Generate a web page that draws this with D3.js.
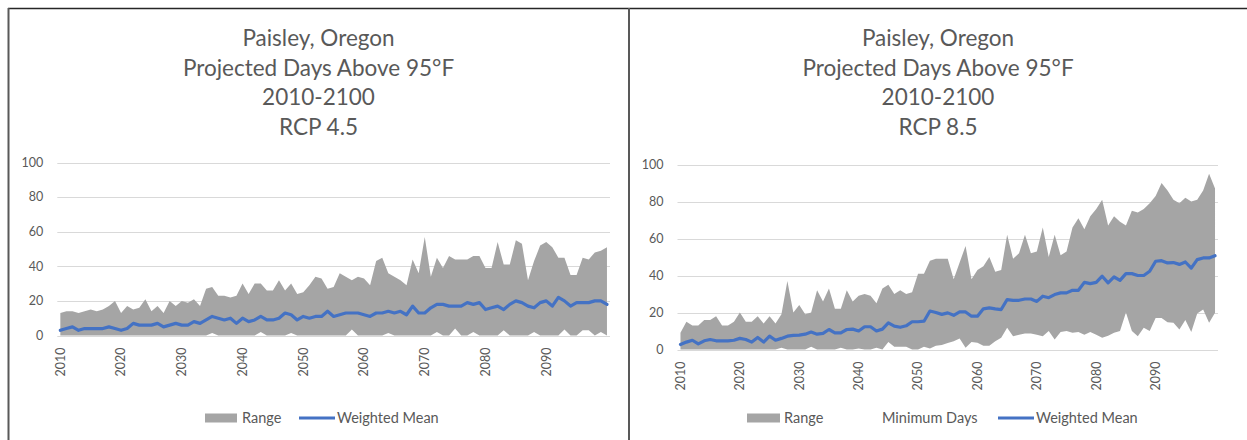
<!DOCTYPE html>
<html>
<head>
<meta charset="utf-8">
<script src="https://cdn.jsdelivr.net/npm/d3@7"></script>
<style>
  html, body { margin: 0; padding: 0; background: #fff; }
  svg { display: block; }
  text { font-family: Lato, "Open Sans", sans-serif; fill: #595959; }
</style>
</head>
<body>
<svg id="chart" width="1247" height="440"></svg>
<script>
// Years on the category axis and the labelled ticks
const years = d3.range(2010, 2101);
const yearTicks = [2010, 2020, 2030, 2040, 2050, 2060, 2070, 2080, 2090];
const dayTicks = [0, 20, 40, 60, 80, 100];

// RCP 4.5: lowest model, highest model, weighted mean (days above 95°F)
const rcp45Min = [
  0, 0, 0, 0, 0, 0, 0, 0, 0, 0,
  0, 0, 0, 0, 0, 0, 0, 0, 0, 0,
  0, 0, 0, 0, 0, 1.5, 0, 0, 0, 0,
  0, 0, 0, 2, 0, 0, 0, 0, 1.5, 0,
  0, 0, 0, 0, 0, 0, 0, 0, 3.5, 0,
  0, 0, 0, 0, 1.5, 0, 0, 0, 0, 0,
  0, 0, 2, 0, 0, 4, 0, 0, 2, 0,
  0, 0, 0, 3, 0, 0, 0, 0, 2, 0,
  0, 0, 0, 3.5, 0, 0, 3, 3, 0, 2,
  0
];
const rcp45Max = [
  13, 14, 14, 13, 14, 15, 14, 15, 17, 20,
  13, 17, 15, 16, 21, 14, 17, 13, 20, 17,
  20, 19, 21, 17, 27, 28, 23, 23, 22, 23,
  30, 24, 30, 30, 26, 26, 32, 26, 30, 24,
  25, 29, 34, 33, 27, 28, 36, 34, 32, 34,
  33, 29, 43, 45, 36, 34, 32, 29, 44, 36,
  57, 34, 45, 39, 46, 44, 44, 44, 46, 46,
  39, 39, 54, 41, 41, 55, 53, 32, 43, 52,
  54, 51, 45, 45, 35, 35, 45, 44, 48, 49,
  51
];
const rcp45Mean = [
  3, 4, 5, 3, 4, 4, 4, 4, 5, 4,
  3, 4, 7, 6, 6, 6, 7, 5, 6, 7,
  6, 6, 8, 7, 9, 11, 10, 9, 10, 7,
  10, 8, 9, 11, 9, 9, 10, 13, 12, 9,
  11, 10, 11, 11, 14, 11, 12, 13, 13, 13,
  12, 11, 13, 13, 14, 13, 14, 12, 17, 13,
  13, 16, 18, 18, 17, 17, 17, 19, 18, 19,
  15, 16, 17, 15, 18, 20, 19, 17, 16, 19,
  20, 17, 22, 20, 17, 19, 19, 19, 20, 20,
  18
];

// RCP 8.5: lowest model, highest model, weighted mean
const rcp85Min = [
  0, 0, 0, 0, 0, 0, 0, 0, 0, 0,
  0, 0, 0, 0, 0, 0, 0, 1, 0, 0,
  0, 0, 1.5, 0, 0, 0, 0, 1, 0, 0,
  0.5, 0, 0, 1, 0, 4, 1.5, 1.5, 1.5, 0,
  0, 1.5, 0.5, 2, 2.5, 3.5, 4.5, 6, 1, 4,
  3.6, 2, 2, 4.5, 6.3, 11.7, 7.2, 8, 8.6, 8.6,
  8, 7.2, 10, 5.4, 9.4, 10, 9, 9.4, 8, 9.4,
  8, 6.3, 7.5, 9, 10, 20, 10, 7.2, 11.7, 10,
  17, 17, 14.7, 14.4, 10.8, 16, 9.4, 19.4, 21.6, 14.4,
  19.8
];
const rcp85Max = [
  9, 15, 13, 13, 16, 16, 18, 13, 13, 15,
  20, 15, 15, 18, 14, 18, 14, 19, 37, 20,
  24, 19, 20, 32, 26, 33, 22, 22, 32, 26,
  29, 30, 29, 25, 33, 35, 30, 32, 30, 31,
  41, 41, 48, 49, 49, 49, 38, 47, 56, 38,
  43, 45, 50, 42, 43, 62, 49, 52, 62, 52,
  53, 66, 50, 62, 51, 53, 66, 71, 65, 72,
  76, 81, 67, 72, 69, 67, 75, 74, 76, 79,
  83, 90, 86, 81, 79, 82, 80, 81, 86, 95,
  87
];
const rcp85Mean = [
  2.7, 4, 5, 3, 4.7, 5.4, 4.7, 4.7, 4.7, 5,
  6, 5.4, 4, 6.5, 4, 7.2, 5, 6, 7.2, 7.6,
  7.8, 8.3, 9.4, 8.3, 8.7, 10.8, 9, 9, 10.8, 11,
  10, 12.3, 12.3, 10, 11, 14.4, 12.6, 12, 12.8, 15,
  15, 15.3, 20.8, 20, 19, 19.8, 18.5, 20.3, 20.3, 18,
  18, 22, 22.5, 22, 21.6, 27, 26.6, 26.6, 27.3, 27.3,
  26, 28.8, 28, 29.7, 30.6, 30.6, 32, 32, 36.3, 35.6,
  36.3, 39.6, 36, 39.2, 37.4, 41, 41, 40, 40, 42.3,
  47.7, 48, 46.8, 47, 46, 47.3, 44, 48.6, 49.5, 49.5,
  50.7
];

const titleLines = ["Paisley, Oregon", "Projected Days Above 95°F", "2010-2100"];

const GRAY = "#A5A5A5";
const BLUE = "#4472C4";
const GRID = "#D9D9D9";

const svg = d3.select("#chart");

// Panel frame lines
svg.append("line").attr("x1", 8).attr("x2", 1247).attr("y1", 8.5).attr("y2", 8.5)
  .attr("stroke", "#262626").attr("stroke-width", 1.5);
svg.append("line").attr("x1", 8.5).attr("x2", 8.5).attr("y1", 8).attr("y2", 440)
  .attr("stroke", "#595959").attr("stroke-width", 2);
svg.append("line").attr("x1", 629).attr("x2", 629).attr("y1", 8).attr("y2", 440)
  .attr("stroke", "#595959").attr("stroke-width", 2);

function drawPanel(cfg) {
  const g = svg.append("g");
  const data = years.map((yr, i) => ({ yr, lo: cfg.min[i], hi: cfg.max[i], mean: cfg.mean[i] }));

  const x = d3.scalePoint().domain(years).range([cfg.left, cfg.right]).padding(0.5);
  const y = d3.scaleLinear().domain([0, 100]).range([cfg.bottom, cfg.top]);

  // Title
  const t = g.append("text").attr("x", cfg.cx).attr("text-anchor", "middle")
    .style("font-size", "22.5px");
  titleLines.concat([cfg.scenario]).forEach((line, i) => {
    t.append("tspan").attr("x", cfg.cx).attr("y", 46 + i * 29.5).text(line);
  });

  // Horizontal gridlines
  g.append("g").selectAll("line").data(dayTicks).join("line")
    .attr("x1", cfg.left).attr("x2", cfg.right)
    .attr("y1", d => Math.round(y(d)) + 0.5).attr("y2", d => Math.round(y(d)) + 0.5)
    .attr("stroke", GRID).attr("stroke-width", 1);

  // Y tick labels
  g.append("g").selectAll("text").data(dayTicks).join("text")
    .attr("x", cfg.left - 14).attr("y", d => y(d)).attr("dy", "0.35em")
    .attr("text-anchor", "end").style("font-size", "12.5px").text(d => d);

  // Range band between lowest and highest projection
  g.append("path").datum(data)
    .attr("fill", GRAY)
    .attr("d", d3.area().x(d => x(d.yr)).y0(d => y(d.lo)).y1(d => y(d.hi)));

  // Weighted mean line
  g.append("path").datum(data)
    .attr("fill", "none").attr("stroke", BLUE).attr("stroke-width", 3.2)
    .attr("stroke-linejoin", "round").attr("stroke-linecap", "round")
    .attr("d", d3.line().x(d => x(d.yr)).y(d => y(d.mean)));

  // Rotated year labels
  g.append("g").selectAll("text").data(yearTicks).join("text")
    .attr("transform", d => `translate(${x(d)},${cfg.bottom + 12}) rotate(-90)`)
    .attr("dy", "0.35em").attr("text-anchor", "end")
    .style("font-size", "12.5px").text(d => d);

  // Legend
  const lg = g.append("g").style("font-size", "14.5px");
  cfg.legend.forEach(item => {
    if (item.type === "rect") {
      lg.append("rect").attr("x", item.x).attr("y", cfg.legendY - 4.5)
        .attr("width", item.w).attr("height", 9).attr("fill", GRAY);
    } else if (item.type === "line") {
      lg.append("line").attr("x1", item.x).attr("x2", item.x + item.w)
        .attr("y1", cfg.legendY).attr("y2", cfg.legendY)
        .attr("stroke", BLUE).attr("stroke-width", 3.2);
    }
    lg.append("text").attr("x", item.tx).attr("y", cfg.legendY).attr("dy", "0.35em")
      .text(item.label);
  });
}

drawPanel({
  scenario: "RCP 4.5", cx: 318.5,
  left: 57.3, right: 610, top: 162.5, bottom: 335.5,
  min: rcp45Min, max: rcp45Max, mean: rcp45Mean,
  legendY: 418,
  legend: [
    { type: "rect", x: 205, w: 32, tx: 242, label: "Range" },
    { type: "line", x: 299, w: 36, tx: 337, label: "Weighted Mean" }
  ]
});

drawPanel({
  scenario: "RCP 8.5", cx: 938,
  left: 677.5, right: 1218, top: 164.5, bottom: 349.5,
  min: rcp85Min, max: rcp85Max, mean: rcp85Mean,
  legendY: 418,
  legend: [
    { type: "rect", x: 747, w: 33, tx: 784, label: "Range" },
    { type: "none", tx: 882, label: "Minimum Days" },
    { type: "line", x: 998, w: 36, tx: 1036, label: "Weighted Mean" }
  ]
});
</script>
</body>
</html>
